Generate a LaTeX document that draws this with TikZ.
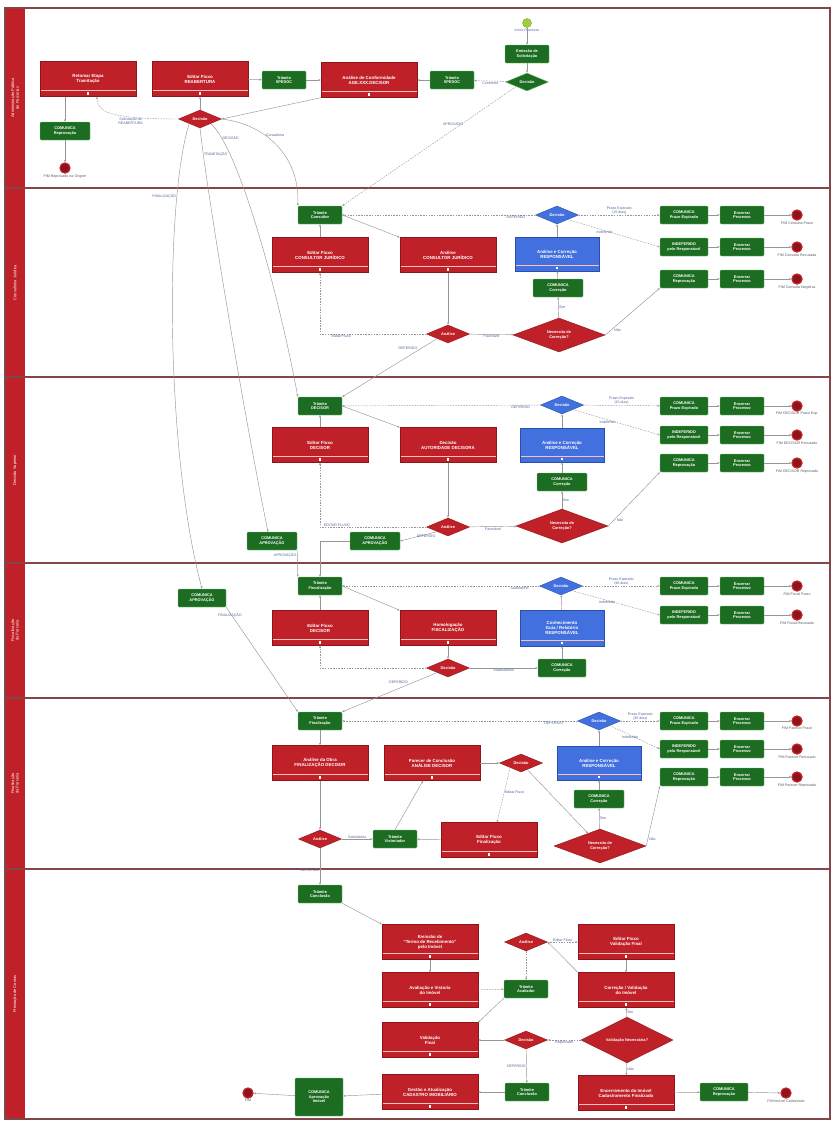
\documentclass[tikz,border=0pt]{standalone}
\usepackage{fontspec}
\setmainfont{Liberation Sans}
\usetikzlibrary{arrows.meta,shapes.geometric}
\definecolor{vermelho}{RGB}{192,33,40}
\definecolor{vermelhoesc}{RGB}{140,20,26}
\definecolor{verde}{RGB}{28,108,34}
\definecolor{verdeclaro}{RGB}{120,190,120}
\definecolor{verdelima}{RGB}{160,205,60}
\definecolor{azul}{RGB}{66,112,222}
\definecolor{azulesc}{RGB}{40,80,170}
\definecolor{azulrot}{RGB}{80,100,160}
\definecolor{cinza}{RGB}{150,150,150}
\definecolor{cinzaesc}{RGB}{90,90,100}
\definecolor{borda}{RGB}{130,70,72}
\tikzset{
  >=Stealth,
  marca/.style={path picture={
      \draw[white!75!red, line width=0.4pt] ([yshift=6pt]path picture bounding box.south west) -- ([yshift=6pt]path picture bounding box.south east);
      \fill[white] ([yshift=2pt]path picture bounding box.south) ++(-1.4pt,0pt) rectangle ++(2.8pt,2.2pt);}},
  tarefa/.style={rectangle, draw=vermelhoesc, fill=vermelho, text=white, minimum width=96pt, minimum height=35pt, inner sep=1pt, align=center, font=\fontsize{4.4}{5}\selectfont\bfseries, marca},
  corrige/.style={tarefa, draw=azulesc, fill=azul, minimum width=84pt, minimum height=34pt},
  tramite/.style={rectangle, rounded corners=1pt, draw=verdeclaro, fill=verde, text=white, minimum width=44pt, minimum height=18pt, inner sep=1pt, align=center, font=\fontsize{3.9}{4.4}\selectfont\bfseries},
  porta/.style={diamond, draw=vermelhoesc, fill=vermelho, text=white, minimum width=43pt, minimum height=18pt, inner sep=0pt, align=center, font=\fontsize{3.9}{4.4}\selectfont\bfseries},
  portagrande/.style={porta, minimum width=92pt, minimum height=34pt},
  portaazul/.style={porta, draw=azulesc, fill=azul},
  inicio/.style={circle, fill=verdelima, draw=verdelima!80!black, minimum size=9pt, inner sep=0pt},
  fim/.style={circle, draw=vermelho, line width=1.3pt, fill=vermelhoesc, minimum size=10pt, inner sep=0pt},
  fluxo/.style={-{Stealth[length=2.5pt,width=2pt]}, draw=cinza, line width=0.45pt},
  cond/.style={fluxo, dash pattern=on 1.5pt off 1.2pt},
  rot/.style={font=\fontsize{3.6}{4}\selectfont, text=azulrot, inner sep=0.6pt, align=center},
  raia/.style={draw=borda, line width=1.4pt},
  cabeca/.style={fill=vermelho},
  titraia/.style={text=white, align=center, font=\fontsize{4}{4.6}\selectfont}
}
\begin{document}
\begin{tikzpicture}[x=1pt,y=-1pt]
    \useasboundingbox (0,0) rectangle (833,1122);

    % === Raias ===
    \foreach \ya/\yb/\t in {8/188/{Administração Pública\\de Parcerias}, 188/377/{Consultoria Jurídica}, 377/563/{Decisão Superior}, 563/698/{Fiscalização\\da Parceria}, 698/869/{Finalização\\da Parceria}, 869/1119/{Prestação de Contas}} {
        \fill[cabeca] (5,\ya) rectangle (25,\yb);
        \draw[raia] (5,\ya) rectangle (830,\yb);
        \node[titraia, rotate=90] (raia\ya) at (15,{(\ya+\yb)/2}) {\t};
    }

    % === Raia 1: Administração ===
    \node[inicio, label={[rot]below:Início Processo}] (aIni) at (527,23) {};
    \node[tramite] (aEmis) at (527,54) {Emissão de\\Solicitação};
    \node[porta, fill=verde, draw=verdeclaro] (aDec) at (527,82) {Decisão};
    \node[tramite] (aTram2) at (452,80) {Trâmite\\SPEDOC};
    \node[tarefa] (aAnal) at (369,80) {Análise de Conformidade\\AGE.XXX.DECISOR};
    \node[tramite] (aTram1) at (284,80) {Trâmite\\SPEDOC};
    \node[tarefa] (aEdit) at (200,79) {Editar Fluxo\\REABERTURA};
    \node[tarefa] (aRet) at (88,79) {Retomar Etapa\\Tramitação};
    \node[porta] (aGw) at (200,119) {Decisão};
    \node[tramite, minimum width=50pt] (aCom) at (65,131) {COMUNICA\\Reprovação};
    \node[fim, label={[rot, text=cinzaesc]below:FIM Reprovado na Origem}] (aFim) at (65,168) {};

    \draw[fluxo] (aIni) -- (aEmis);
    \draw[fluxo] (aEmis) -- (aDec);
    \draw[cond] (aDec) -- node[rot, below] {Conforme} (aTram2);
    \draw[fluxo] (aTram2) -- (aAnal);
    \draw[fluxo] (aEdit) -- (aTram1);
    \draw[fluxo] (aTram1) -- (aAnal);
    \draw[fluxo] (aAnal.south west) -- (aGw.east);
    \draw[fluxo] (aGw) -- (aEdit);
    \draw[cond] (aGw.west) .. controls (110,119) and (97,112) .. node[rot, below, pos=0.3] {Solicitação de\\REABERTURA} ([xshift=9pt]aRet.south);
    \draw[fluxo] (aRet.south -| aCom.north) -- (aCom);
    \draw[fluxo] (aCom) -- (aFim);

    % === Raia 2: Consultoria ===
    \node[tramite] (bTram) at (320,215) {Trâmite\\Consultor};
    \node[tarefa] (bEdit) at (320,255) {Editar Fluxo\\CONSULTOR JURÍDICO};
    \node[tarefa] (bAnal) at (448,255) {Análise\\CONSULTOR JURÍDICO};
    \node[porta] (bGwA) at (448,334) {Análise};
    \node[portagrande] (bNec) at (559,335) {Necessita de\\Correção?};
    \node[tramite, minimum width=50pt] (bCom) at (558,288) {COMUNICA\\Correção};
    \node[corrige] (bCorr) at (557,254) {Análise e Correção\\RESPONSÁVEL};
    \node[portaazul] (bDec) at (557,215) {Decisão};
    \foreach \n/\y/\t/\f in {1/215/{COMUNICA\\Prazo Expirado}/{FIM Consulta Prazo}, 2/247/{INDEFERIDO\\pelo Responsável}/{FIM Consulta Recusada}, 3/279/{COMUNICA\\Reprovação}/{FIM Consulta Negativa}} {
        \node[tramite, minimum width=48pt] (bC\n) at (684,\y) {\t};
        \node[tramite] (bE\n) at (742,\y) {Encerrar\\Processo};
        \node[fim, label={[rot, text=cinzaesc]below:\f}] (bF\n) at (797,\y) {};
        \draw[fluxo] (bC\n) -- (bE\n);
        \draw[fluxo] (bE\n) -- (bF\n);
    }

    \draw[fluxo] (bTram.east) -- (bAnal.north west);
    \draw[fluxo] (bEdit) -- (bTram);
    \draw[fluxo] (bAnal) -- (bGwA);
    \draw[cond] (bGwA.west) -| node[rot, below, pos=0.4] {Editar Fluxo} (bEdit.south);
    \draw[fluxo] (bGwA) -- node[rot, below] {Favorável} (bNec);
    \draw[fluxo] (bNec) -- node[rot, right] {Sim} (bCom);
    \draw[fluxo] (bCom) -- (bCorr);
    \draw[fluxo] (bCorr) -- (bDec);
    \draw[cond] (bDec) -- node[rot, below, pos=0.1] {DEFERIDO} (bTram);
    \draw[cond] (bDec) -- node[rot, above] {Prazo Expirado\\(15 dias)} (bC1);
    \draw[cond] (bDec.south east) -- node[rot, below, pos=0.4] {Indeferido} (bC2.west);
    \draw[fluxo] (bNec.east) -- node[rot, below right, pos=0.15] {Não} (bC3.south west);

    % === Raia 3: Decisão ===
    \node[tramite] (cTram) at (320,406) {Trâmite\\DECISOR};
    \node[tarefa] (cEdit) at (320,445) {Editar Fluxo\\DECISOR};
    \node[tarefa] (cAnal) at (448,445) {Decisão\\AUTORIDADE DECISORA};
    \node[porta] (cGwA) at (448,527) {Análise};
    \node[portagrande] (cNec) at (562,526) {Necessita de\\Correção?};
    \node[tramite, minimum width=50pt] (cCom) at (562,482) {COMUNICA\\Correção};
    \node[corrige] (cCorr) at (562,445) {Análise e Correção\\RESPONSÁVEL};
    \node[portaazul] (cDec) at (562,405) {Decisão};
    \node[tramite, minimum width=50pt] (cApr1) at (272,541) {COMUNICA\\APROVAÇÃO};
    \node[tramite, minimum width=50pt] (cApr2) at (375,541) {COMUNICA\\APROVAÇÃO};
    \foreach \n/\y/\t/\f in {1/406/{COMUNICA\\Prazo Expirado}/{FIM DECISOR Prazo Exp.}, 2/435/{INDEFERIDO\\pelo Responsável}/{FIM DECISOR Recusado}, 3/463/{COMUNICA\\Reprovação}/{FIM DECISOR Reprovado}} {
        \node[tramite, minimum width=48pt] (cC\n) at (684,\y) {\t};
        \node[tramite] (cE\n) at (742,\y) {Encerrar\\Processo};
        \node[fim, label={[rot, text=cinzaesc]below:\f}] (cF\n) at (797,\y) {};
        \draw[fluxo] (cC\n) -- (cE\n);
        \draw[fluxo] (cE\n) -- (cF\n);
    }

    \draw[fluxo] (cTram.east) -- (cAnal.north west);
    \draw[fluxo] (cEdit) -- (cTram);
    \draw[fluxo] (cAnal) -- (cGwA);
    \draw[cond] (cGwA.west) -| node[rot, above, pos=0.42] {EDITAR FLUXO} (cEdit.south);
    \draw[fluxo] (cGwA.south west) -- node[rot, below, pos=0.3] {DEFERIDO} (cApr2.east);
    \draw[fluxo] (cGwA) -- node[rot, below] {Favorável} (cNec);
    \draw[fluxo] (cNec) -- node[rot, right] {Sim} (cCom);
    \draw[fluxo] (cCom) -- (cCorr);
    \draw[fluxo] (cCorr) -- (cDec);
    \draw[cond] (cDec) -- node[rot, below, pos=0.1] {DEFERIDO} (cTram);
    \draw[cond] (cDec) -- node[rot, above] {Prazo Expirado\\(15 dias)} (cC1);
    \draw[cond] (cDec.south east) -- node[rot, below, pos=0.4] {Indeferido} (cC2.west);
    \draw[fluxo] (cNec.east) -- node[rot, below right, pos=0.15] {Não} (cC3.south west);

    % === Raia 4: Fiscalização ===
    \node[tramite, minimum width=48pt] (dApr) at (202,598) {COMUNICA\\APROVAÇÃO};
    \node[tramite] (dTram) at (320,586) {Trâmite\\Fiscalização};
    \node[tarefa] (dEdit) at (320,628) {Editar Fluxo\\DECISOR};
    \node[tarefa] (dHom) at (448,628) {Homologação\\FISCALIZAÇÃO};
    \node[portaazul] (dDec) at (561,586) {Decisão};
    \node[corrige, minimum height=36pt] (dCorr) at (562,628) {Conhecimento\\Guia / Relatório\\RESPONSÁVEL};
    \node[tramite, minimum width=48pt] (dCom) at (562,668) {COMUNICA\\Correção};
    \node[porta] (dGw) at (448,668) {Decisão};
    \foreach \n/\y/\t/\f in {1/586/{COMUNICA\\Prazo Expirado}/{FIM Fiscal Prazo}, 2/615/{INDEFERIDO\\pelo Responsável}/{FIM Fiscal Recusado}} {
        \node[tramite, minimum width=48pt] (dC\n) at (684,\y) {\t};
        \node[tramite] (dE\n) at (742,\y) {Encerrar\\Processo};
        \node[fim, label={[rot, text=cinzaesc]below:\f}] (dF\n) at (797,\y) {};
        \draw[fluxo] (dC\n) -- (dE\n);
        \draw[fluxo] (dE\n) -- (dF\n);
    }

    \draw[fluxo] (dTram.east) -- (dHom.north west);
    \draw[fluxo] (dEdit) -- (dTram);
    \draw[fluxo] (dHom) -- (dGw);
    \draw[cond] (dGw.west) -| (dEdit.south);
    \draw[fluxo] (dGw) -- node[rot, below] {Insatisfatório} (dCom);
    \draw[fluxo] (dCom) -- (dCorr);
    \draw[fluxo] (dCorr) -- (dDec);
    \draw[cond] (dDec) -- node[rot, below, pos=0.1] {Satisfatório} (dTram);
    \draw[cond] (dDec) -- node[rot, above] {Prazo Expirado\\(30 dias)} (dC1);
    \draw[cond] (dDec.south east) -- node[rot, below, pos=0.4] {Indeferido} (dC2.west);

    % === Raia 5: Finalização ===
    \node[tramite] (eTram) at (320,721) {Trâmite\\Finalização};
    \node[tarefa] (eObra) at (320,763) {Análise da Obra\\FINALIZAÇÃO DECISOR};
    \node[porta] (eGwA) at (320,839) {Análise};
    \node[tramite] (eVist) at (395,839) {Trâmite\\Vistoriador};
    \node[tarefa] (eParec) at (432,763) {Parecer de Conclusão\\ANÁLISE DECISOR};
    \node[porta] (eGw) at (521,763) {Decisão};
    \node[tarefa] (eEdit) at (489,840) {Editar Fluxo\\Finalização};
    \node[portagrande] (eNec) at (600,846) {Necessita de\\Correção?};
    \node[tramite, minimum width=50pt] (eCom) at (599,799) {COMUNICA\\Correção};
    \node[corrige] (eCorr) at (599,763) {Análise e Correção\\RESPONSÁVEL};
    \node[portaazul] (eDec) at (599,721) {Decisão};
    \foreach \n/\y/\t/\f in {1/721/{COMUNICA\\Prazo Expirado}/{FIM Parecer Prazo}, 2/749/{INDEFERIDO\\pelo Responsável}/{FIM Parecer Recusado}, 3/777/{COMUNICA\\Reprovação}/{FIM Parecer Reprovado}} {
        \node[tramite, minimum width=48pt] (eC\n) at (684,\y) {\t};
        \node[tramite] (eE\n) at (742,\y) {Encerrar\\Processo};
        \node[fim, label={[rot, text=cinzaesc]below:\f}] (eF\n) at (797,\y) {};
        \draw[fluxo] (eC\n) -- (eE\n);
        \draw[fluxo] (eE\n) -- (eF\n);
    }

    \draw[fluxo] (eTram) -- (eObra);
    \draw[fluxo] (eObra) -- (eGwA);
    \draw[fluxo] (eGwA) -- node[rot, above] {Satisfatório} (eVist);
    \draw[fluxo] (eVist.north) -- ([xshift=-9pt]eParec.south);
    \draw[fluxo] (eParec) -- (eGw);
    \draw[cond] (eGw.south west) -- node[rot, right, pos=0.45] {Editar Fluxo} ([xshift=8pt]eEdit.north);
    \draw[fluxo] (eGw) -- (eNec);
    \draw[fluxo] (eEdit) -- (eVist);
    \draw[fluxo] (eNec) -- node[rot, right] {Sim} (eCom);
    \draw[fluxo] (eCom) -- (eCorr);
    \draw[fluxo] (eCorr) -- (eDec);
    \draw[cond] (eDec) -- node[rot, below, pos=0.1] {DEFERIDO} (eTram);
    \draw[cond] (eDec) -- node[rot, above] {Prazo Expirado\\(30 dias)} (eC1);
    \draw[cond] (eDec.south east) -- node[rot, below, pos=0.4] {Indeferido} (eC2.west);
    \draw[fluxo] (eNec.east) -- node[rot, below right, pos=0.15] {Não} (eC3.south west);

    % === Raia 6: Prestação de contas ===
    \node[tramite] (fTram) at (320,894) {Trâmite\\Conclusão};
    \node[tarefa] (fEmis) at (430,942) {Emissão de\\``Termo de Recebimento''\\pelo Imóvel};
    \node[tarefa] (fAval) at (430,990) {Avaliação e Vistoria\\do Imóvel};
    \node[tarefa] (fVal) at (430,1040) {Validação\\Final};
    \node[tarefa] (fGest) at (430,1092) {Gestão e Atualização\\CADASTRO IMOBILIÁRIO};
    \node[tramite, minimum width=48pt, minimum height=38pt] (fApr) at (319,1097) {COMUNICA\\Aprovação\\Imóvel};
    \node[fim, label={[rot, text=cinzaesc]below:FIM}] (fFim) at (248,1093) {};
    \node[porta] (fGwA) at (526,942) {Análise};
    \node[tramite] (fTramAv) at (526,989) {Trâmite\\Avaliador};
    \node[porta] (fGw) at (526,1040) {Decisão};
    \node[tramite] (fTram2) at (527,1092) {Trâmite\\Conclusão};
    \node[tarefa] (fEdit) at (626,942) {Editar Fluxo\\Validação Final};
    \node[tarefa] (fCorr) at (626,990) {Correção / Validação\\do Imóvel};
    \node[portagrande] (fNec) at (627,1040) {Validação Necessária?};
    \node[tarefa] (fEnc) at (626,1093) {Encerramento do Imóvel\\Cadastramento Finalizado};
    \node[tramite, minimum width=48pt] (fRep) at (724,1092) {COMUNICA\\Reprovação};
    \node[fim, label={[rot, text=cinzaesc]below:FIM Imóvel Cadastrado}] (fFim2) at (786,1093) {};

    \draw[fluxo] (fTram.south east) -- (fEmis.north west);
    \draw[fluxo] (fEmis) -- (fAval);
    \draw[cond] (fAval) -- (fTramAv);
    \draw[cond] (fGwA) -- (fTramAv);
    \draw[cond] (fGwA) -- node[rot, above] {Editar Fluxo} (fEdit);
    \draw[fluxo] (fEdit) -- (fCorr);
    \draw[fluxo] (fCorr.north west) -- (fGwA.east);
    \draw[fluxo] (fTramAv.south west) -- (fVal.north east);
    \draw[fluxo] (fGw) -- (fVal);
    \draw[cond] (fNec) -- node[rot, below] {Reprovado} (fGw);
    \draw[fluxo] (fNec) -- node[rot, right] {Sim} (fCorr);
    \draw[fluxo] (fNec) -- node[rot, right] {Não} (fEnc);
    \draw[fluxo] (fGw) -- node[rot, left] {DEFERIDO} (fTram2);
    \draw[fluxo] (fTram2) -- (fGest);
    \draw[fluxo] (fGest) -- (fApr);
    \draw[fluxo] (fApr) -- (fFim);
    \draw[fluxo] (fEnc) -- (fRep);
    \draw[fluxo] (fRep) -- (fFim2);

    % === Ligações entre raias ===
    \draw[cond] (aDec.south west) -- node[rot, below left, pos=0.3] {APROVADO} (bTram.north east);
    \draw[fluxo] (aGw.east) .. controls (270,125) and (300,160) .. node[rot, pos=0.35, right] {Consultoria} (bTram.north west);
    \draw[fluxo] (aGw.south east) .. controls (240,150) and (280,300) .. node[rot, pos=0.12, right] {DECISÃO} (cTram.north west);
    \draw[fluxo] (aGw.south) .. controls (208,200) and (245,420) .. node[rot, pos=0.1, right] {TRAMITAÇÃO} ([xshift=-4pt]cApr1.north);
    \draw[fluxo] (aGw.south west) .. controls (165,200) and (165,450) .. node[rot, pos=0.22, left] {FINALIZAÇÃO} (dApr.north);
    \draw[fluxo] (bGwA.south west) -- node[rot, above left, pos=0.2] {DEFERIDO} (cTram.north east);
    \draw[fluxo] (cApr2.west) -| (dTram.north);
    \draw[fluxo] (cApr1.south east) -- node[rot, below left, pos=0.1] {APROVAÇÃO} (dTram.north west);
    \draw[fluxo] (dApr.south east) -- node[rot, below, pos=0.05] {FINALIZAÇÃO} (eTram.north west);
    \draw[fluxo] (dGw.south west) -- node[rot, above left, pos=0.3] {DEFERIDO} (eTram.north east);
    \draw[fluxo] (eGwA) -- node[rot, left, pos=0.6] {DEFERIDO} (fTram);

\end{tikzpicture}
\end{document}
